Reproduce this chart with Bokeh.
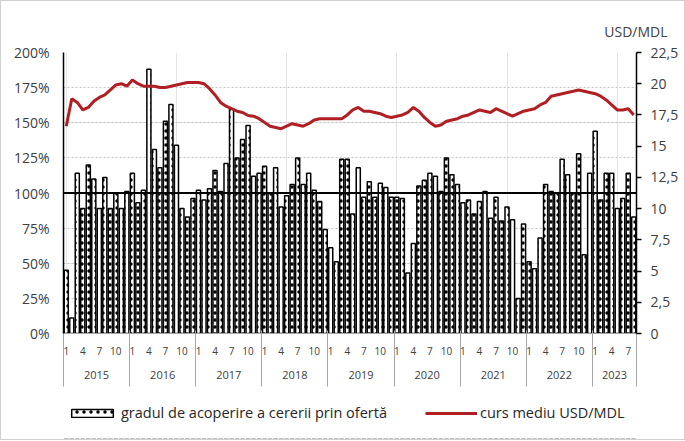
from bokeh.plotting import figure
from bokeh.layouts import column
from bokeh.models import (Range1d, LinearAxis, FixedTicker, Span, Legend, LegendItem,
                          Title, ColumnDataSource, Grid)
from bokeh.embed import file_html
from bokeh.resources import INLINE

# ---------------- data ----------------
years = ["2015", "2016", "2017", "2018", "2019", "2020", "2021", "2022", "2023"]
month_ticks = [1, 4, 7, 10]

cov_2015 = [45, 11, 114, 89, 120, 110, 89, 111, 89, 100, 89, 101]
cov_2016 = [114, 93, 102, 188, 131, 118, 151, 163, 134, 89, 83, 96]
cov_2017 = [102, 95, 103, 116, 101, 121, 160, 125, 138, 148, 112, 114]
cov_2018 = [119, 100, 118, 90, 98, 106, 125, 106, 114, 102, 94, 74]
cov_2019 = [61, 51, 124, 124, 85, 118, 97, 108, 97, 107, 104, 97]
cov_2020 = [97, 96, 43, 64, 105, 109, 114, 112, 101, 125, 113, 106]
cov_2021 = [93, 95, 85, 94, 101, 82, 97, 80, 90, 81, 25, 78]
cov_2022 = [51, 46, 68, 106, 101, 100, 124, 113, 100, 128, 56, 114]
cov_2023 = [144, 95, 114, 114, 89, 96, 114, 83]

rate_2015 = [16.6, 18.8, 18.5, 17.9, 18.1, 18.6, 18.9, 19.1, 19.5, 19.9, 20.0, 19.8]
rate_2016 = [20.3, 20.0, 19.8, 19.8, 19.8, 19.7, 19.7, 19.8, 19.9, 20.0, 20.1, 20.1]
rate_2017 = [20.1, 20.0, 19.6, 19.1, 18.5, 18.2, 18.0, 17.8, 17.7, 17.45, 17.4, 17.2]
rate_2018 = [16.9, 16.6, 16.5, 16.4, 16.6, 16.8, 16.7, 16.6, 16.8, 17.1, 17.2, 17.2]
rate_2019 = [17.2, 17.2, 17.2, 17.5, 17.9, 18.1, 17.8, 17.8, 17.7, 17.6, 17.4, 17.3]
rate_2020 = [17.4, 17.5, 17.7, 18.1, 17.8, 17.3, 16.9, 16.6, 16.7, 17.0, 17.1, 17.2]
rate_2021 = [17.4, 17.5, 17.7, 17.9, 17.8, 17.7, 18.0, 17.8, 17.6, 17.4, 17.6, 17.8]
rate_2022 = [17.9, 18.0, 18.3, 18.5, 19.0, 19.1, 19.2, 19.3, 19.4, 19.5, 19.4, 19.3]
rate_2023 = [19.2, 19.0, 18.7, 18.3, 17.9, 17.9, 18.0, 17.5]

left_ticks = [0, 25, 50, 75, 100, 125, 150, 175, 200]
right_ticks = [0.0, 2.5, 5.0, 7.5, 10.0, 12.5, 15.0, 17.5, 20.0, 22.5]
right_labels = ["0", "2,5", "5", "7,5", "10", "12,5", "15", "17,5", "20", "22,5"]

label_cov = "gradul de acoperire a cererii prin ofertă"
label_rate = "curs mediu USD/MDL"
right_title = "USD/MDL"

coverage = (cov_2015 + cov_2016 + cov_2017 + cov_2018 + cov_2019 + cov_2020 +
            cov_2021 + cov_2022 + cov_2023)
rate = (rate_2015 + rate_2016 + rate_2017 + rate_2018 + rate_2019 + rate_2020 +
        rate_2021 + rate_2022 + rate_2023)
n = len(coverage)
idx = list(range(n))

FONT = "Open Sans"
TXT = "#404040"
W, H1, H2 = 683, 389, 49
FL, FT, FR, FB = 62, 51, 635, 332   # frame edges inside the (bordered) figure

BAR_STYLE = dict(fill_color="white", line_color="black", line_width=1.5,
                 hatch_pattern="dot", hatch_color="black", hatch_scale=7, hatch_weight=0.8)
LINE_STYLE = dict(line_color="#b01f24", line_width=3)

p = figure(width=W, height=H1, output_backend="svg", toolbar_location=None,
           x_range=Range1d(-0.5, n - 0.5), y_range=Range1d(0, 200),
           x_axis_location=None, y_axis_location=None,
           min_border_left=FL, min_border_right=W - FR, min_border_top=FT,
           min_border_bottom=H1 - FB)
p.extra_y_ranges = {"usd": Range1d(0, 22.5)}
p.outline_line_color = None
p.background_fill_color = "white"
p.border_fill_color = "white"

grid = Grid(dimension=1, ticker=FixedTicker(ticks=left_ticks[1:]),
            grid_line_color="#c4c4c4", grid_line_dash="2 2", grid_line_width=1)
p.add_layout(grid)

# left axis
yl = LinearAxis(ticker=FixedTicker(ticks=left_ticks),
                major_label_overrides={t: f"{t}%" for t in left_ticks})
yl.axis_line_color = "black"
yl.axis_line_width = 1.5
yl.major_tick_line_color = None
yl.major_tick_out = 0
yl.major_tick_in = 0
yl.minor_tick_line_color = None
yl.minor_tick_out = 0
yl.major_label_standoff = 14
yl.major_label_text_font = FONT
yl.major_label_text_font_size = "14px"
yl.major_label_text_color = TXT
p.add_layout(yl, "left")

# right axis
yr = LinearAxis(y_range_name="usd", ticker=FixedTicker(ticks=right_ticks),
                major_label_overrides=dict(zip(right_ticks, right_labels)))
yr.axis_line_color = "black"
yr.axis_line_width = 1.5
yr.major_tick_line_color = "black"
yr.major_tick_line_width = 1.5
yr.major_tick_out = 5
yr.major_tick_in = 0
yr.minor_tick_line_color = None
yr.minor_tick_out = 0
yr.major_label_standoff = 9
yr.major_label_text_font = FONT
yr.major_label_text_font_size = "14px"
yr.major_label_text_color = TXT
p.add_layout(yr, "right")

# month axis
month_pos = [k * 12 + m - 1 for k in range(len(years)) for m in month_ticks if k * 12 + m - 1 < n]
month_lbl = {pos: str(pos % 12 + 1) for pos in month_pos}
xa = LinearAxis(ticker=FixedTicker(ticks=month_pos), major_label_overrides=month_lbl)
xa.axis_line_color = "#a6a6a6"
xa.axis_line_width = 1
xa.major_tick_line_color = None
xa.major_tick_out = 0
xa.major_tick_in = 0
xa.minor_tick_line_color = None
xa.minor_tick_out = 0
xa.major_label_standoff = 13
xa.major_label_text_font = FONT
xa.major_label_text_font_size = "10px"
xa.major_label_text_color = TXT
p.add_layout(xa, "below")

# year axis, year separators as minor ticks reaching up to the plot
year_pos = [k * 12 + (min(12, n - k * 12) - 1) / 2 for k in range(len(years))]
bounds = [-0.5] + [k * 12 + 11.5 for k in range(len(years)) if k * 12 + 11.5 < n - 0.5] + [n - 0.5]
xy = LinearAxis(ticker=FixedTicker(ticks=year_pos, minor_ticks=bounds),
                major_label_overrides=dict(zip(year_pos, years)))
xy.axis_line_color = None
xy.major_tick_line_color = None
xy.major_tick_out = 0
xy.major_tick_in = 0
xy.minor_tick_line_color = "#a6a6a6"
xy.minor_tick_line_width = 1
xy.minor_tick_in = 27
xy.minor_tick_out = 29
xy.major_label_standoff = -16
xy.major_label_text_font = FONT
xy.major_label_text_font_size = "11px"
xy.major_label_text_color = TXT
p.add_layout(xy, "below")

src = ColumnDataSource(dict(x=idx, cov=coverage, rate=rate))
bars = p.vbar(x="x", top="cov", bottom=0, width=0.74, source=src, **BAR_STYLE)
p.add_layout(Span(location=100, dimension="width", line_color="black", line_width=2))
line = p.line(x="x", y="rate", source=src, y_range_name="usd", **LINE_STYLE)

p.add_layout(Title(text=right_title, align="right", offset=-31, standoff=23,
                   text_font=FONT, text_font_size="14px", text_font_style="normal",
                   text_color=TXT), "above")

# legend strip (separate figure so the legend is not clipped); the same data is
# drawn there below the visible range so only the legend swatches show
p2 = figure(width=W, height=H2, output_backend="svg", toolbar_location=None,
            x_range=Range1d(-0.5, n - 0.5), y_range=Range1d(250, 400),
            x_axis_location=None, y_axis_location=None,
            min_border_left=0, min_border_right=0, min_border_top=0, min_border_bottom=0)
p2.outline_line_color = None
p2.xgrid.visible = False
p2.ygrid.visible = False
p2.background_fill_color = "white"
p2.border_fill_color = "white"
lbars = p2.vbar(x="x", top="cov", bottom=0, width=0.74, source=src, **BAR_STYLE)
lline = p2.line(x="x", y="rate", source=src, **LINE_STYLE)
legend = Legend(items=[LegendItem(label=label_cov, renderers=[lbars]),
                       LegendItem(label=label_rate, renderers=[lline])],
                orientation="horizontal", location=(3, 17),
                glyph_width=52, glyph_height=10, spacing=38, label_standoff=3,
                label_text_font=FONT, label_text_font_size="14.5px",
                label_text_color="#262626",
                border_line_color=None, background_fill_alpha=0,
                margin=0, padding=0)
p2.add_layout(legend)

layout = column(p, p2, spacing=0, styles={"border": "1px solid #d0d0d0"})
open("out.html", "w").write(file_html(layout, INLINE))
